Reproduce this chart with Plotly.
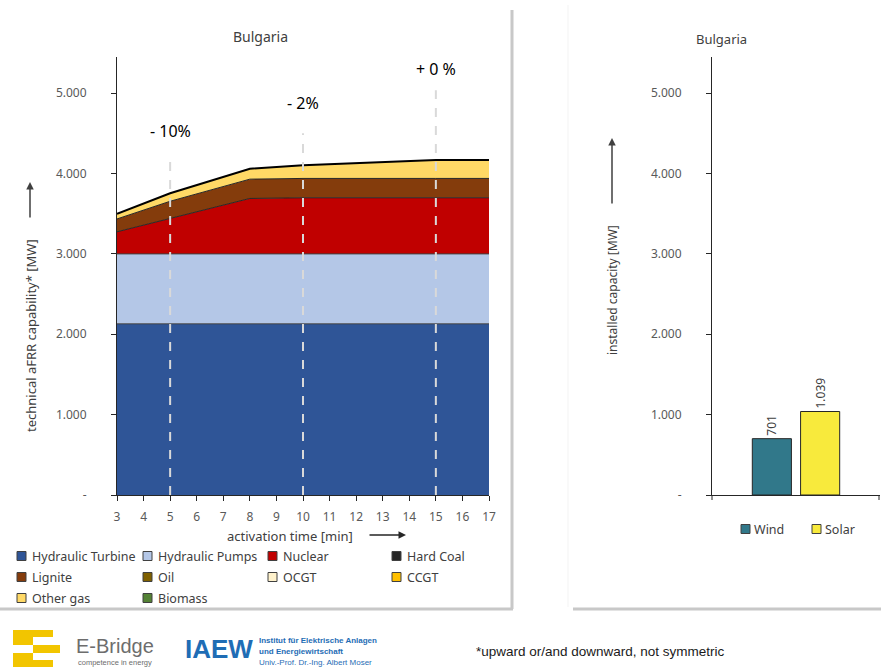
import plotly.graph_objects as go

# ---------------- data ----------------
time_min = [3, 5, 8, 10, 15, 17]
hydraulic_turbine = [2130, 2130, 2130, 2130, 2130, 2130]
hydraulic_pumps = [870, 870, 870, 870, 870, 870]
nuclear = [275, 440, 690, 698, 698, 698]
lignite = [160, 215, 240, 241, 241, 241]
other_gas = [65, 100, 130, 165, 230, 230]

marker_times = [5, 10, 15]
marker_labels = ["- 10%", "- 2%", "+ 0 %"]

res_types = ["Wind", "Solar"]
res_capacity = [701, 1039]

y_tickvals = [0, 1000, 2000, 3000, 4000, 5000]
y_ticktext = ["-", "1.000", "2.000", "3.000", "4.000", "5.000"]
x_tickvals = list(range(3, 18))

legend_names = ["Hydraulic Turbine", "Hydraulic Pumps", "Nuclear", "Hard Coal",
                "Lignite", "Oil", "OCGT", "CCGT", "Other gas", "Biomass"]

colors = {
    "Hydraulic Turbine": "#2F5597",
    "Hydraulic Pumps": "#B4C7E7",
    "Nuclear": "#C00000",
    "Hard Coal": "#262626",
    "Lignite": "#843C0C",
    "Oil": "#7F6000",
    "OCGT": "#FFF2CC",
    "CCGT": "#FFC000",
    "Other gas": "#FFD966",
    "Biomass": "#548235",
    "Wind": "#31788A",
    "Solar": "#F8EA3C",
}

W, H = 881, 667
FONT = "Noto Sans"
TXT = "#404040"


def px(x):
    return x / W


def py(y):
    return 1 - y / H


fig = go.Figure()

series = [("Hydraulic Turbine", hydraulic_turbine, "#404040", 1),
          ("Hydraulic Pumps", hydraulic_pumps, "#404040", 1),
          ("Nuclear", nuclear, "#262626", 1),
          ("Lignite", lignite, "#262626", 1),
          ("Other gas", other_gas, "#000000", 2)]
for name, vals, lc, lw in series:
    fig.add_trace(go.Scatter(
        x=time_min, y=vals, name=name, stackgroup="gen", mode="lines",
        line=dict(color=lc, width=lw), fillcolor=colors[name],
        showlegend=False, xaxis="x", yaxis="y"))

fig.add_trace(go.Bar(
    x=[0, 1], y=res_capacity, name="RES", width=0.81,
    marker=dict(color=[colors[t] for t in res_types], line=dict(color="#262626", width=1)),
    text=res_capacity, texttemplate="%{y:,}", textposition="outside", textangle=-90,
    textfont=dict(family=FONT, size=12, color=TXT), cliponaxis=False,
    showlegend=False, xaxis="x2", yaxis="y2", hoverinfo="skip"))

ydom = [py(495), py(57)]
yrange = [0, 5450]
axis_common = dict(showgrid=False, zeroline=False, showline=True, linecolor="#262626",
                   linewidth=1, ticks="outside", ticklen=5, tickcolor="#262626",
                   automargin=False,
                   tickfont=dict(family=FONT, size=12, color="#595959"))

fig.update_layout(
    width=W, height=H, margin=dict(l=0, r=0, t=0, b=0, pad=0, autoexpand=False),
    paper_bgcolor="white", plot_bgcolor="white", separators=",.",
    xaxis=dict(domain=[px(117), px(489)], range=[3, 17], tickvals=x_tickvals,
               anchor="y", ticklabelstandoff=6, **axis_common),
    yaxis=dict(domain=ydom, range=yrange, tickvals=y_tickvals, ticktext=y_ticktext,
               anchor="x", ticklabelstandoff=22, **axis_common),
    xaxis2=dict(domain=[px(712), px(880)], range=[-1.24, 2.24], showticklabels=False,
                anchor="y2", showgrid=False, zeroline=False, showline=True,
                linecolor="#262626", linewidth=1, ticks="", automargin=False),
    yaxis2=dict(domain=ydom, range=yrange, tickvals=y_tickvals, ticktext=y_ticktext,
                anchor="x2", ticklabelstandoff=22, **axis_common),
    showlegend=False,
)

shapes = []
annotations = []


def note(x, y, text, size, color=TXT, family=FONT, xanchor="center", angle=0):
    annotations.append(dict(xref="paper", yref="paper", x=px(x), y=py(y), text=text,
                            showarrow=False, xanchor=xanchor, yanchor="middle",
                            textangle=angle, font=dict(family=family, size=size, color=color)))


def arrow(x, y, ax, ay, color="#404040"):
    annotations.append(dict(xref="paper", yref="paper", x=px(x), y=py(y), ax=ax, ay=ay,
                            text="", showarrow=True, arrowhead=2, arrowsize=1,
                            arrowwidth=1.5, arrowcolor=color))


# dashed marker lines and labels
line_tops = [4254, 4502, 5037]
label_ys = [4527, 4876, 5298]
for t, lab, top, ly in zip(marker_times, marker_labels, line_tops, label_ys):
    shapes.append(dict(type="line", xref="x", yref="y", x0=t, x1=t, y0=0, y1=top,
                       line=dict(color="#D9D9D9", width=2, dash="dash"), layer="above"))
    annotations.append(dict(xref="x", yref="y", x=t, y=ly, text=lab, showarrow=False,
                            xanchor="center", yanchor="middle",
                            font=dict(family=FONT, size=16, color="#000000")))

# right x-axis end ticks
for xx in [712, 879]:
    shapes.append(dict(type="line", xref="paper", yref="paper", x0=px(xx), x1=px(xx),
                       y0=py(495), y1=py(500), line=dict(color="#262626", width=1)))

# panel shadows
shapes += [
    dict(type="line", xref="paper", yref="paper", x0=px(512), x1=px(512), y0=py(10), y1=py(609),
         line=dict(color="#C8C8C8", width=3)),
    dict(type="line", xref="paper", yref="paper", x0=px(0), x1=px(513), y0=py(609), y1=py(609),
         line=dict(color="#C8C8C8", width=3)),
    dict(type="line", xref="paper", yref="paper", x0=px(573), x1=px(881), y0=py(609), y1=py(609),
         line=dict(color="#C8C8C8", width=3)),
    dict(type="line", xref="paper", yref="paper", x0=px(568), x1=px(568), y0=py(5), y1=py(607),
         line=dict(color="#F3F3F3", width=1)),
]

# titles / axis titles
note(260, 37, "Bulgaria", 14)
note(721, 39, "Bulgaria", 13)
note(31, 336, "technical aFRR capability* [MW]", 13, angle=-90)
arrow(30, 182, 0, 37)
note(290, 536, "activation time [min]", 13)
arrow(406, 535, -38, 0, "#262626")
note(613, 290, "installed capacity [MW]", 12, angle=-90)
arrow(612, 138, 0, 67)

# legend (left)
col_x = [17, 143, 268, 392]
row_y = [556, 577, 598]
for i, name in enumerate(legend_names):
    cx = col_x[i % 4]
    cy = row_y[i // 4]
    shapes.append(dict(type="rect", xref="paper", yref="paper", x0=px(cx), x1=px(cx + 9),
                       y0=py(cy + 4.5), y1=py(cy - 4.5), fillcolor=colors[name],
                       line=dict(color="#404040", width=1)))
    note(cx + 13, cy, name, 12.5, xanchor="left")

# legend (right)
for name, cx in zip(res_types, [741, 812]):
    cy = 529
    shapes.append(dict(type="rect", xref="paper", yref="paper", x0=px(cx), x1=px(cx + 9),
                       y0=py(cy + 4.5), y1=py(cy - 4.5), fillcolor=colors[name],
                       line=dict(color="#404040", width=1)))
    note(cx + 11, cy, name, 12.5, xanchor="left")

# E-Bridge logo (approximation)
yellow = "#F2C500"
for (x0, y0, x1, y1) in [(13, 630, 53, 637), (13, 637, 33, 645), (33, 645, 60, 653),
                         (13, 653, 33, 660), (13, 660, 53, 667)]:
    shapes.append(dict(type="rect", xref="paper", yref="paper", x0=px(x0), x1=px(x1),
                       y0=py(y1), y1=py(y0), fillcolor=yellow, line=dict(width=0)))
note(74, 646, "E-Bridge", 20, color="#6D6D6D", family="Liberation Sans", xanchor="left")
note(76, 662, "competence in energy", 7.5, color="#6D6D6D", family="Liberation Sans", xanchor="left")
note(183, 649, "<b>IAEW</b>", 26, color="#1F6DB5", family="Liberation Sans", xanchor="left")
note(257, 640, "<b>Institut für Elektrische Anlagen</b>", 8, color="#1F6DB5",
     family="Liberation Sans", xanchor="left")
note(257, 651, "<b>und Energiewirtschaft</b>", 8, color="#1F6DB5",
     family="Liberation Sans", xanchor="left")
note(257, 662, "Univ.-Prof. Dr.-Ing. Albert Moser", 8, color="#1F6DB5",
     family="Liberation Sans", xanchor="left")
note(474, 651, "*upward or/and downward, not symmetric", 13.5, color="#1A1A1A",
     family="Liberation Sans", xanchor="left")

fig.update_layout(shapes=shapes, annotations=annotations)
fig.write_html("out.html", config={"displayModeBar": False},
               post_script="document.body.style.margin='0px';document.body.style.padding='0px';")
